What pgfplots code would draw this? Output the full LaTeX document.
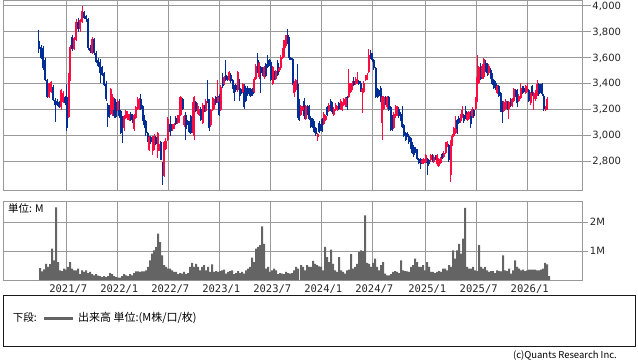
\documentclass[border=0pt]{standalone}
\usepackage{fontspec}
\setmainfont{DejaVu Sans}
\newfontfamily\jp{Noto Sans CJK JP}
\newfontfamily\mono{DejaVu Sans Mono}
\usepackage{pgfplots}
\usepackage{pgfplotstable}
\pgfplotsset{compat=1.18}
\definecolor{cred}{RGB}{255,10,65}
\definecolor{cblue}{RGB}{0,45,150}
\definecolor{cvol}{RGB}{100,100,100}
\definecolor{cgrid}{RGB}{153,153,153}

\pgfplotstableread{
x o h l c
38.8 3733 3815 3640 3666
41.3 3686 3700 3590 3597
43.0 3674 3690 3510 3520
45.0 3584 3600 3420 3430
47.0 3430 3440 3290 3301
49.0 3301 3410 3290 3404
51.0 3340 3420 3330 3417
53.0 3378 3390 3270 3276
55.0 3276 3290 3108 3237
57.0 3270 3280 3230 3240
59.0 3260 3270 3215 3224
61.0 3224 3360 3200 3353
63.0 3260 3345 3250 3330
65.0 3300 3310 3240 3250
66.7 3301 3400 3040 3057
68.7 3147 3480 3140 3460
70.2 3430 3700 3420 3685
72.2 3760 3780 3650 3670
74.2 3670 3760 3660 3750
76.2 3740 3900 3730 3880
78.2 3880 3910 3800 3820
80.2 3820 3900 3800 3890
82.2 3880 4000 3870 3960
84.2 3950 3960 3900 3910
86.2 3920 3930 3880 3900
88.2 3900 3910 3660 3680
90.2 3680 3700 3640 3650
92.2 3640 3760 3630 3745
94.2 3745 3750 3620 3640
96.2 3640 3650 3560 3570
98.2 3580 3600 3530 3540
100.2 3570 3590 3410 3480
102.2 3530 3540 3460 3470
104.2 3480 3490 3380 3390
106.2 3400 3420 3270 3280
107.5 3236 3250 3069 3146
109.2 3220 3240 3140 3150
110.8 3170 3370 3160 3364
112.5 3200 3320 3150 3300
114.2 3270 3290 3140 3150
115.8 3260 3280 3140 3146
117.5 3200 3280 3190 3270
119.2 3270 3280 3140 3150
120.8 3190 3200 3010 3020
122.5 3130 3150 2946 3080
124.2 3060 3160 3040 3150
125.8 3140 3200 3130 3190
127.5 3130 3190 3120 3170
129.2 3120 3170 3110 3160
130.8 3170 3180 3110 3120
132.5 3160 3170 3100 3110
134.2 3050 3170 3040 3160
135.8 3140 3230 3130 3220
137.5 3210 3300 3200 3285
139.2 3210 3290 3200 3275
140.8 3280 3320 3200 3210
142.5 3230 3240 3110 3130
144.2 3150 3160 3060 3080
145.8 3110 3120 3000 3020
147.5 3018 3030 2950 2955
149.2 2890 3000 2880 2990
150.8 2990 3000 2940 2950
152.5 2880 3000 2850 2990
154.2 2900 3010 2890 3000
155.8 2990 3000 2930 2940
157.5 2880 3030 2830 3020
159.2 2890 2940 2880 2930
160.8 2950 2960 2810 2815
162.5 2790 2800 2620 2690
164.2 2690 2960 2680 2950
165.8 2900 2980 2890 2960
167.5 2970 3146 2960 3130
169.2 3080 3090 3030 3040
170.8 3090 3150 3000 3040
172.5 3050 3090 3040 3080
174.2 3060 3100 3050 3090
175.8 3140 3150 3080 3090
177.5 3100 3160 3090 3150
179.2 3110 3300 3100 3160
180.8 3160 3310 3150 3300
182.5 3280 3290 3200 3210
184.2 3080 3160 3070 3150
185.8 3160 3180 2970 3050
187.5 3110 3120 3080 3085
189.2 3100 3110 3020 3030
190.8 3150 3160 3010 3020
192.5 3030 3260 3020 3250
194.2 3000 3310 2967 3300
195.8 3260 3270 3180 3190
197.5 3180 3250 3170 3230
199.2 3160 3210 3150 3200
200.8 3210 3220 3110 3120
202.5 3100 3250 3090 3240
204.2 3230 3240 3180 3190
205.8 3190 3280 3180 3270
207.5 3280 3430 3250 3260
209.2 3270 3280 3040 3060
210.8 3080 3210 3070 3200
212.5 3200 3300 3190 3290
214.2 3220 3280 3210 3270
215.8 3300 3310 3240 3250
217.5 3260 3430 3250 3300
219.2 3310 3320 3150 3160
220.8 3200 3390 3190 3377
222.5 3450 3480 3370 3380
224.2 3400 3460 3390 3450
225.8 3470 3582 3420 3430
227.5 3450 3460 3420 3430
229.2 3430 3500 3420 3490
230.8 3470 3480 3410 3420
232.5 3430 3440 3360 3370
234.2 3380 3390 3270 3330
235.8 3390 3400 3340 3350
237.5 3350 3500 3340 3490
239.2 3430 3440 3270 3360
240.8 3360 3370 3310 3320
242.5 3340 3410 3330 3400
244.2 3390 3400 3210 3220
245.8 3370 3380 3260 3270
247.5 3370 3380 3310 3320
249.2 3360 3370 3310 3320
250.8 3360 3370 3300 3310
252.5 3360 3370 3310 3320
254.2 3340 3450 3330 3440
255.8 3440 3550 3430 3540
257.5 3580 3640 3480 3490
259.2 3450 3570 3440 3560
260.8 3530 3540 3330 3480
262.5 3520 3530 3460 3470
264.2 3450 3540 3440 3530
265.8 3550 3560 3450 3460
267.5 3580 3620 3520 3530
269.2 3580 3590 3540 3550
270.8 3570 3580 3420 3430
272.5 3400 3540 3390 3530
274.2 3490 3500 3430 3440
275.8 3440 3510 3430 3500
277.5 3560 3580 3460 3470
279.2 3500 3530 3490 3520
280.8 3520 3620 3510 3610
282.5 3600 3680 3590 3672
284.2 3620 3740 3610 3736
285.8 3690 3780 3680 3774
287.5 3774 3826 3710 3720
289.2 3750 3760 3580 3600
290.8 3600 3610 3580 3590
292.5 3590 3600 3390 3400
294.2 3330 3420 3300 3410
295.8 3350 3440 3340 3430
297.5 3400 3550 3140 3150
299.2 3270 3280 3110 3120
300.8 3160 3240 3150 3230
302.5 3200 3230 3190 3220
304.2 3270 3290 3130 3150
305.8 3130 3240 3120 3230
307.5 3230 3240 3160 3170
309.2 3230 3240 3120 3130
310.8 3140 3150 3060 3070
312.5 3130 3140 3060 3070
314.2 3100 3110 3020 3030
315.8 3060 3070 3000 3010
317.5 2990 3020 2960 3010
319.2 3100 3110 3020 3030
320.5 3080 3090 3040 3050
322.2 3130 3140 3030 3040
323.8 3090 3180 3080 3170
325.5 3120 3160 3110 3155
327.2 3220 3230 3150 3160
328.8 3190 3250 3180 3240
330.5 3270 3280 3190 3200
332.2 3250 3260 3170 3180
333.8 3160 3220 3150 3210
335.5 3200 3250 3190 3240
337.2 3200 3230 3190 3225
338.8 3250 3260 3200 3210
340.5 3210 3280 3200 3270
342.2 3200 3260 3190 3250
343.8 3240 3290 3230 3280
345.5 3230 3300 3220 3290
347.2 3300 3310 3200 3220
348.8 3300 3518 3290 3410
350.5 3340 3410 3330 3400
352.2 3360 3420 3350 3410
353.8 3420 3450 3380 3390
355.5 3400 3450 3390 3440
357.2 3410 3490 3400 3430
358.8 3420 3430 3390 3400
360.5 3410 3420 3340 3350
362.2 3340 3370 3177 3360
363.8 3340 3420 3330 3410
365.5 3430 3470 3420 3465
367.2 3440 3480 3430 3470
368.8 3490 3672 3480 3620
370.5 3640 3660 3590 3600
372.2 3630 3640 3570 3580
373.8 3580 3590 3510 3520
375.5 3520 3530 3290 3300
377.2 3360 3370 3290 3300
378.8 3350 3360 3300 3310
380.5 3370 3380 3260 3280
382.2 3095 3310 2967 3300
383.8 3210 3310 3200 3300
385.5 3300 3310 3240 3250
387.2 3220 3310 3210 3300
388.8 3300 3310 3190 3200
390.5 3220 3230 3040 3045
392.2 3150 3160 3040 3045
393.8 3060 3180 3050 3170
395.5 3150 3240 3140 3230
397.2 3160 3230 3150 3220
398.8 3210 3220 3140 3150
400.5 3170 3180 3110 3120
402.2 3150 3230 3060 3070
403.8 3080 3090 2990 3000
405.5 3020 3030 2960 2970
407.2 3020 3030 2990 3000
408.8 3000 3010 2940 2950
410.5 2980 2990 2900 2910
412.2 2940 2950 2860 2870
413.8 2910 2930 2840 2850
415.5 2900 2910 2870 2880
417.2 2890 2900 2810 2820
418.8 2820 2830 2780 2790
420.5 2820 2830 2740 2780
422.2 2790 2820 2780 2815
423.8 2790 2830 2780 2820
425.5 2800 2860 2790 2850
427.2 2820 2830 2697 2790
428.8 2810 2820 2770 2780
430.5 2810 2860 2800 2850
432.2 2850 2860 2800 2810
433.8 2800 2850 2790 2840
435.5 2840 2850 2810 2815
437.2 2780 2860 2770 2850
438.8 2770 2830 2760 2820
440.5 2790 2840 2780 2830
442.2 2860 2870 2820 2830
443.8 2840 2880 2830 2870
445.5 2870 2950 2860 2940
447.2 2920 2960 2910 2950
448.8 2930 2940 2800 2810
450.5 2700 2970 2646 2950
452.2 2930 3010 2920 3000
453.8 3000 3070 2990 3060
455.5 3020 3150 3010 3050
457.2 3120 3130 3010 3020
458.8 3140 3150 3090 3100
460.5 3110 3170 3100 3160
462.2 3150 3230 3140 3200
463.8 3160 3170 3100 3110
465.5 3190 3230 3130 3140
467.2 3120 3180 3110 3170
468.8 3130 3190 3120 3180
470.5 3180 3190 3060 3090
472.2 3150 3220 3140 3210
473.8 3200 3210 3140 3150
475.5 3210 3300 3200 3290
477.2 3270 3621 3260 3450
478.8 3410 3540 3400 3530
480.5 3540 3560 3430 3440
482.2 3450 3550 3440 3540
483.8 3450 3600 3440 3595
485.5 3560 3580 3490 3500
487.2 3550 3560 3460 3480
488.8 3480 3550 3470 3540
490.5 3510 3520 3440 3450
492.2 3470 3480 3390 3400
493.8 3430 3440 3360 3370
495.5 3410 3420 3350 3360
497.2 3330 3390 3320 3380
498.8 3380 3390 3300 3310
500.5 3330 3340 3180 3190
502.2 3260 3270 3100 3180
503.8 3190 3270 3180 3260
505.5 3210 3280 3200 3270
507.2 3260 3270 3200 3210
508.8 3210 3270 3130 3260
510.5 3280 3290 3220 3230
512.2 3230 3290 3220 3280
513.8 3270 3370 3260 3360
515.5 3350 3360 3300 3310
517.2 3350 3360 3220 3250
518.8 3270 3320 3260 3310
520.5 3290 3410 3280 3370
522.2 3370 3380 3320 3330
523.8 3370 3380 3330 3340
525.5 3330 3390 3320 3380
527.2 3350 3410 3340 3370
528.8 3350 3360 3260 3270
530.5 3250 3340 3240 3330
532.2 3380 3390 3310 3320
533.8 3280 3340 3200 3330
535.5 3280 3350 3270 3340
537.2 3320 3430 3310 3400
538.8 3400 3410 3310 3320
540.5 3390 3400 3330 3340
542.2 3400 3410 3310 3320
543.8 3310 3320 3190 3210
545.5 3200 3230 3190 3220
547.2 3210 3300 3200 3280
}\candles

\pgfplotstableread{
x v
40 0.41
42 0.30
44 0.37
46 0.56
48 0.45
50 0.55
52 1.08
54 0.68
56 2.50
58 0.62
60 0.33
62 0.31
64 0.39
66 0.36
68 0.45
70 0.62
72 0.39
74 0.33
76 0.33
78 0.39
80 0.20
82 0.33
84 0.28
86 0.33
88 0.24
90 0.28
92 0.20
94 0.16
96 0.20
98 0.15
100 0.13
102 0.10
104 0.13
106 0.10
108 0.13
110 0.24
112 0.20
114 0.13
116 0.10
118 0.08
120 0.08
122 0.13
124 0.20
126 0.16
128 0.13
130 0.20
132 0.16
134 0.24
136 0.30
138 0.30
140 0.28
142 0.30
144 0.30
146 0.33
148 0.45
150 0.68
152 0.91
154 1.02
156 1.14
158 1.60
160 1.31
162 0.85
164 0.51
166 0.45
168 0.39
170 0.39
172 0.33
174 0.28
176 0.28
178 0.20
180 0.24
182 0.22
184 0.28
186 0.20
188 0.24
190 0.45
192 0.59
194 0.45
196 0.56
198 0.45
200 0.33
202 0.45
204 0.51
206 0.33
208 0.45
210 0.28
212 0.54
214 0.28
216 0.31
218 0.28
220 0.31
222 0.33
224 0.36
226 0.22
228 0.28
230 0.31
232 0.33
234 0.20
236 0.24
238 0.31
240 0.24
242 0.28
244 0.22
246 0.33
248 0.39
250 0.45
252 0.77
254 0.62
256 1.08
258 1.14
260 1.20
262 1.85
264 1.25
266 0.39
268 0.45
270 0.28
272 0.33
274 0.39
276 0.33
278 0.20
280 0.24
282 0.22
284 0.20
286 0.28
288 0.24
290 0.22
292 0.24
294 0.33
296 0.45
298 0.39
301 0.51
303 0.45
305 0.33
307 0.51
309 0.45
311 0.45
313 0.66
315 0.56
317 0.51
319 0.47
321 0.45
323 0.33
325 1.14
327 0.79
329 0.62
331 1.05
333 0.56
335 0.33
337 0.28
339 0.79
341 0.33
343 0.28
345 0.22
347 0.33
349 0.36
351 0.89
353 0.39
355 0.45
357 0.56
359 0.97
361 1.02
363 1.00
365 2.23
367 0.59
369 0.56
371 0.45
373 0.59
375 0.74
377 0.45
379 0.33
381 0.51
383 0.62
385 0.22
387 0.16
389 0.16
391 0.20
393 0.28
395 0.31
397 0.28
399 0.24
401 0.68
403 0.33
405 0.31
407 0.30
409 0.28
411 0.45
413 0.51
415 0.74
417 0.62
419 0.45
421 0.45
423 0.51
425 0.33
427 0.62
429 0.45
431 0.28
433 0.28
435 0.24
437 0.28
439 0.31
441 0.28
443 0.39
445 0.39
447 0.33
449 0.51
451 0.45
453 1.02
455 0.74
457 1.02
459 1.25
461 0.91
463 1.43
465 2.49
467 0.45
469 0.39
471 0.39
473 0.45
475 0.33
477 0.31
479 1.20
481 0.45
483 0.39
485 0.45
487 0.33
489 0.28
491 0.31
493 0.31
495 0.24
497 0.33
499 0.31
501 0.30
503 0.85
505 0.33
507 0.31
509 0.39
511 0.22
513 0.33
515 0.68
517 0.45
519 0.39
521 0.33
523 0.36
525 0.31
527 0.33
529 0.36
531 0.36
533 0.36
535 0.36
537 0.33
539 0.33
541 0.36
543 0.39
545 0.59
547 0.54
549 0.13
}\volume

\begin{document}
\begin{tikzpicture}[x=1pt,y=1pt]
\path[use as bounding box] (0pt,0pt) rectangle (638pt,-362pt);
% ---------------- price panel
\begin{axis}[
  at={(3pt,-0.7pt)}, anchor=north west, scale only axis,
  width=579.7pt, height=189.6pt,
  xmin=3, xmax=582.7, ymin=2579.6, ymax=4040.8,
  xtick={66.3,117.3,168.3,219.3,270.3,321.3,372.3,425.3,476.7,527.7},
  xticklabels={},
  xtick style={draw=none},
  ytick={2800,3000,3200,3400,3600,3800,4000},
  ytick pos=right, yticklabel pos=right,
  tick align=outside, major tick length=8pt,
  ytick style={cgrid, line width=1pt},
  grid=major, grid style={cgrid, line width=1pt},
  axis line style={cgrid, line width=1pt},
  yticklabel style={font=\fontsize{10}{12}\selectfont, inner sep=1.5pt, text=black!85},
  /pgf/number format/.cd, 1000 sep={,}, assume math mode=true,
]
\addplot[draw=none, forget plot, restrict expr to domain={\thisrow{c}-\thisrow{o}}{-100000:-0.5},
  error bars/.cd, y dir=both, y explicit, error mark=none,
  error bar style={draw=cblue, line width=1pt}]
  table[x=x, y expr={(\thisrow{h}+\thisrow{l})/2}, y error expr={(\thisrow{h}-\thisrow{l})/2}] {\candles};
\addplot[draw=none, forget plot, restrict expr to domain={\thisrow{c}-\thisrow{o}}{-100000:-0.5},
  error bars/.cd, y dir=both, y explicit, error mark=none,
  error bar style={draw=cblue, line width=2pt}]
  table[x=x, y expr={(\thisrow{o}+\thisrow{c})/2}, y error expr={abs(\thisrow{c}-\thisrow{o})/2}] {\candles};
\addplot[draw=none, forget plot, restrict expr to domain={\thisrow{c}-\thisrow{o}}{0.5:100000},
  error bars/.cd, y dir=both, y explicit, error mark=none,
  error bar style={draw=cred, line width=1pt}]
  table[x=x, y expr={(\thisrow{h}+\thisrow{l})/2}, y error expr={(\thisrow{h}-\thisrow{l})/2}] {\candles};
\addplot[draw=none, forget plot, restrict expr to domain={\thisrow{c}-\thisrow{o}}{0.5:100000},
  error bars/.cd, y dir=both, y explicit, error mark=none,
  error bar style={draw=cred, line width=2pt}]
  table[x=x, y expr={(\thisrow{o}+\thisrow{c})/2}, y error expr={abs(\thisrow{c}-\thisrow{o})/2}] {\candles};
\end{axis}
% ---------------- volume panel
\begin{axis}[
  at={(3pt,-201pt)}, anchor=north west, scale only axis,
  width=579.7pt, height=79pt,
  xmin=3, xmax=582.7, ymin=0, ymax=2.724,
  xtick={66.3,117.3,168.3,219.3,270.3,321.3,372.3,425.3,476.7,527.7},
  xticklabels={2021/7,2022/1,2022/7,2023/1,2023/7,2024/1,2024/7,2025/1,2025/7,2026/1},
  xtick style={draw=none},
  xticklabel style={font=\mono\fontsize{10.5}{12}\selectfont, inner sep=0pt, yshift=0.5pt, xshift=2pt, text=black!85},
  ytick={1,2}, yticklabels={1M,2M},
  ytick pos=right, yticklabel pos=right,
  tick align=outside, major tick length=5.5pt,
  ytick style={cgrid, line width=1pt},
  grid=major, grid style={cgrid, line width=1pt},
  axis line style={cgrid, line width=1pt},
  yticklabel style={font=\fontsize{10}{12}\selectfont, inner sep=1.5pt, text=black!85},
]
\addplot[ybar, bar width=2, fill=cvol, draw=none, forget plot] table[x=x, y=v] {\volume};
\end{axis}
\node[anchor=west, inner sep=0pt] at (8pt,-209pt) {\jp\fontsize{10.5}{12}\selectfont 単位: M};
% ---------------- legend box
\draw[line width=1pt, black!90] (3.3pt,-295pt) rectangle (635pt,-346pt);
\node[anchor=west, inner sep=0pt] at (12.7pt,-318pt) {\jp\fontsize{10.5}{12}\selectfont 下段:};
\draw[line width=3pt, cvol] (44pt,-318pt) -- (73pt,-318pt);
\node[anchor=west, inner sep=0pt] at (78pt,-318pt) {\jp\fontsize{11}{12}\selectfont 出来高 単位:(M株/口/枚)};
\node[anchor=east, inner sep=0pt] at (617pt,-356pt) {\jp\fontsize{9.5}{11}\selectfont (c)Quants Research Inc.};
\end{tikzpicture}
\end{document}
